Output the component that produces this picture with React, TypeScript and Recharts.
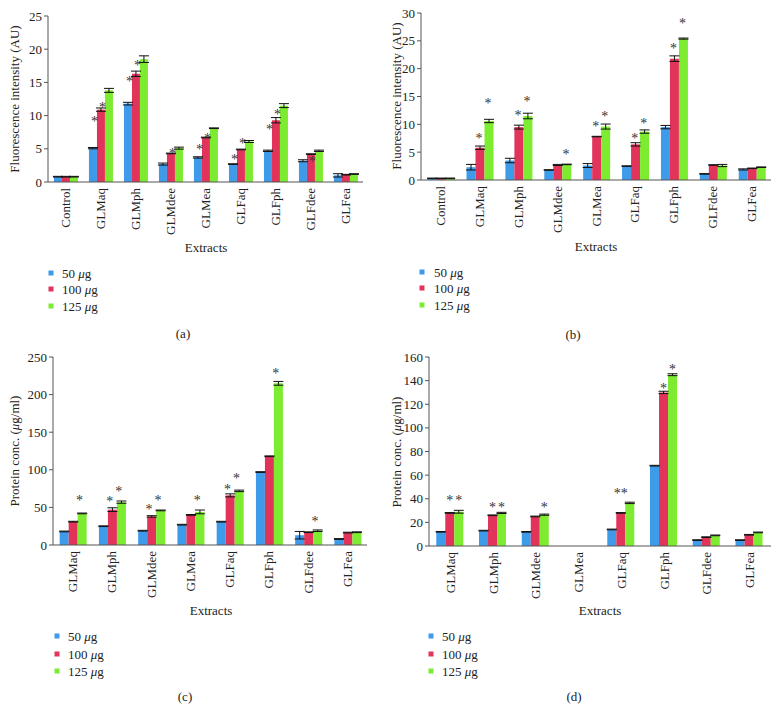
import React from "react";
import { BarChart, Bar, XAxis, YAxis, ErrorBar, LabelList } from "recharts";

const FONT = "'Liberation Serif', 'DejaVu Serif', serif";
const FS = 13;
const C50 = "#3D9BE9";
const C100 = "#E2345B";
const C125 = "#7DEB30";

// ---------- panel (a) ----------
const catsAB = ["Control", "GLMaq", "GLMph", "GLMdee", "GLMea", "GLFaq", "GLFph", "GLFdee", "GLFea"];
const a50 = [0.8, 5.1, 11.8, 2.7, 3.7, 2.7, 4.7, 3.2, 1.0];
const a100 = [0.8, 10.9, 16.3, 4.3, 6.7, 4.9, 9.3, 4.2, 1.1];
const a125 = [0.8, 13.8, 18.5, 5.1, 8.1, 6.1, 11.5, 4.7, 1.2];
const aErr50 = [0.05, 0.1, 0.2, 0.15, 0.1, 0.05, 0.1, 0.15, 0.25];
const aErr100 = [0.05, 0.25, 0.4, 0.05, 0.05, 0.05, 0.4, 0.05, 0.05];
const aErr125 = [0.05, 0.3, 0.5, 0.15, 0.05, 0.15, 0.3, 0.1, 0.05];
const aStar100 = [null, 9.5, 15.5, null, 5.3, 3.8, 8.3, null, null];
const aStar125 = [null, 11.6, 17.9, 4.6, 7.0, 6.1, 10.5, 3.5, null];
const aTicks = [0, 5, 10, 15, 20, 25];

// ---------- panel (b) ----------
const b50 = [0.3, 2.3, 3.5, 1.8, 2.6, 2.5, 9.5, 1.1, 1.9];
const b100 = [0.3, 5.8, 9.5, 2.7, 7.8, 6.4, 21.8, 2.7, 2.1];
const b125 = [0.3, 10.6, 11.5, 2.8, 9.6, 8.7, 25.4, 2.6, 2.3];
const bErr50 = [0.05, 0.5, 0.4, 0.05, 0.35, 0.05, 0.3, 0.05, 0.1];
const bErr100 = [0.05, 0.3, 0.35, 0.1, 0.05, 0.3, 0.5, 0.05, 0.05];
const bErr125 = [0.05, 0.3, 0.5, 0.05, 0.45, 0.3, 0.1, 0.2, 0.05];
const bStar100 = [null, 7.9, 12.0, null, 10.0, 7.9, 24.0, null, null];
const bStar125 = [null, 14.2, 14.6, 5.0, 11.8, 10.6, 28.6, null, null];
const bTicks = [0, 5, 10, 15, 20, 25, 30];

// ---------- panel (c) ----------
const catsCD = ["GLMaq", "GLMph", "GLMdee", "GLMea", "GLFaq", "GLFph", "GLFdee", "GLFea"];
const c50 = [18, 25, 19, 27, 31, 97, 13, 8];
const c100 = [31, 47, 38, 40, 66, 118, 17, 16.5];
const c125 = [42, 57, 46, 44, 72, 215, 19, 17];
const cErr50 = [0.5, 0.5, 0.5, 0.5, 0.5, 0.5, 5, 0.5];
const cErr100 = [0.5, 2.5, 1, 0.5, 2, 0.5, 0.5, 0.5];
const cErr125 = [0.5, 1.5, 0.5, 2.5, 1, 2.5, 1, 0.5];
const cStar100 = [null, 60.6, 50.9, null, 77.4, null, null, null];
const cStar125 = [62, 73.9, 62, 62, 91.6, 232, 34.5, null];
const cTicks = [0, 50, 100, 150, 200, 250];

// ---------- panel (d) ----------
const d50 = [12, 13, 12, 0, 14, 68, 5, 5];
const d100 = [28, 26, 25, 0, 28, 130, 7.5, 9.5];
const d125 = [29, 28, 26.5, 0, 36.5, 145, 9, 11.5];
const dErr50 = [0.3, 0.3, 0.3, 0, 0.3, 0.3, 0.3, 0.3];
const dErr100 = [0.3, 0.3, 0.3, 0, 0.3, 1, 0.3, 0.3];
const dErr125 = [1.2, 0.5, 0.5, 0, 0.6, 0.8, 0.3, 0.3];
const dStar100 = [40.6, 34.6, null, null, 46.5, 135.8, null, null];
const dStar125 = [40.6, 34.6, 34.6, null, null, 151.3, null, null];
const dDoubleStar100 = ["GLFaq"];
const dTicks = [0, 20, 40, 60, 80, 100, 120, 140, 160];

const legendLabels = ["50", "100", "125"];

function buildRows(cats, v1, v2, v3, e1, e2, e3, s2, s3, doubles2) {
  const dbl = doubles2 || [];
  return cats.map((name, i) => ({
    name,
    v1: v1[i], v2: v2[i], v3: v3[i],
    e1: e1[i], e2: e2[i], e3: e3[i],
    s2: s2[i] == null ? null : `${s2[i]}|${dbl.includes(name) ? "**" : "*"}`,
    s3: s3[i] == null ? null : `${s3[i]}|*`,
  }));
}

const XTick = (props) => {
  const { x, y, payload } = props;
  return (
    <text
      transform={`translate(${x + 4.5},${y + 6}) rotate(-90)`}
      textAnchor="end"
      fontSize={FS}
      fontFamily={FONT}
      fill="#222"
    >
      {payload.value}
    </text>
  );
};

function makeStar(plotH, yMax, dx) {
  return (props) => {
    const vb = props.viewBox || {};
    const x = vb.x ?? props.x;
    const y = vb.y ?? props.y;
    const width = vb.width ?? props.width;
    const height = vb.height ?? props.height;
    const raw = props.value;
    if (raw == null || x == null) return null;
    const [hs, txt] = String(raw).split("|");
    const v = parseFloat(hs);
    if (!isFinite(v)) return null;
    const base = y + height;
    const sy = base - (v * plotH) / yMax;
    const cx = x + width / 2 + dx * width;
    return (
      <text x={cx} y={sy + 7} textAnchor="middle" fontSize={14} fontFamily={FONT}
        fill="#333" style={{ fill: "#333" }}>
        {txt || "*"}
      </text>
    );
  };
}

function Panel({ rows, left, top, width, height, margin, yWidth, xHeight, yMax, yTicks, starDx }) {
  const plotH = height - margin.top - margin.bottom - xHeight;
  return (
    <div style={{ position: "absolute", left, top, width, height }}>
      <BarChart width={width} height={height} data={rows} margin={margin} barCategoryGap="17%" barGap={0}>
        <XAxis
          dataKey="name"
          height={xHeight}
          interval={0}
          tickLine={false}
          tickSize={0}
          tickMargin={0}
          axisLine={{ stroke: "#555" }}
          tick={<XTick />}
        />
        <YAxis
          width={yWidth}
          domain={[0, yMax]}
          ticks={yTicks}
          interval={0}
          tickSize={4}
          tickLine={{ stroke: "#555" }}
          axisLine={{ stroke: "#555" }}
          tick={{ fontSize: FS, fontFamily: FONT, fill: "#222" }}
        />
        <Bar dataKey="v1" fill={C50} isAnimationActive={false}>
          <ErrorBar dataKey="e1" width={5} stroke="#111" strokeWidth={1} />
        </Bar>
        <Bar dataKey="v2" fill={C100} isAnimationActive={false}>
          <ErrorBar dataKey="e2" width={5} stroke="#111" strokeWidth={1} />
          <LabelList dataKey="s2" content={makeStar(plotH, yMax, starDx)} />
        </Bar>
        <Bar dataKey="v3" fill={C125} isAnimationActive={false}>
          <ErrorBar dataKey="e3" width={5} stroke="#111" strokeWidth={1} />
          <LabelList dataKey="s3" content={makeStar(plotH, yMax, starDx)} />
        </Bar>
      </BarChart>
    </div>
  );
}

function Legend({ sx, tx, ys }) {
  const colors = [C50, C100, C125];
  return (
    <g>
      {legendLabels.map((l, i) => (
        <g key={l}>
          <rect x={sx - 2.5} y={ys[i] - 2.5} width={5} height={5} fill={colors[i]} />
          <text x={tx} y={ys[i]} dominantBaseline="central" fontSize={FS} fontFamily={FONT} fill="#222">
            {l} <tspan fontStyle="italic">μ</tspan>g
          </text>
        </g>
      ))}
    </g>
  );
}

function T({ x, y, children, rotate }) {
  return (
    <text
      x={x}
      y={y}
      textAnchor="middle"
      dominantBaseline="central"
      fontSize={FS}
      fontFamily={FONT}
      fill="#222"
      transform={rotate ? `rotate(-90 ${x} ${y})` : undefined}
    >
      {children}
    </text>
  );
}

export default function App() {
  const rowsA = buildRows(catsAB, a50, a100, a125, aErr50, aErr100, aErr125, aStar100, aStar125, null);
  const rowsB = buildRows(catsAB, b50, b100, b125, bErr50, bErr100, bErr125, bStar100, bStar125, null);
  const rowsC = buildRows(catsCD, c50, c100, c125, cErr50, cErr100, cErr125, cStar100, cStar125, null);
  const rowsD = buildRows(catsCD, d50, d100, d125, dErr50, dErr100, dErr125, dStar100, dStar125, dDoubleStar100);

  return (
    <div style={{ position: "absolute", left: 0, top: 0, width: 780, height: 722, background: "#fff" }}>
      <Panel rows={rowsA} left={0} top={0} width={370} height={240}
        margin={{ top: 16, right: 7, left: 0, bottom: 0 }} yWidth={48} xHeight={58}
        yMax={25} yTicks={aTicks} starDx={-0.8} />
      <Panel rows={rowsB} left={390} top={0} width={390} height={240}
        margin={{ top: 13, right: 9, left: 0, bottom: 0 }} yWidth={31} xHeight={60}
        yMax={30} yTicks={bTicks} starDx={-0.1} />
      <Panel rows={rowsC} left={0} top={340} width={380} height={265}
        margin={{ top: 17, right: 13, left: 0, bottom: 0 }} yWidth={53} xHeight={60}
        yMax={250} yTicks={cTicks} starDx={-0.3} />
      <Panel rows={rowsD} left={390} top={340} width={390} height={265}
        margin={{ top: 17, right: 9, left: 0, bottom: 0 }} yWidth={39} xHeight={59}
        yMax={160} yTicks={dTicks} starDx={0} />

      <svg width={780} height={722} style={{ position: "absolute", left: 0, top: 0, pointerEvents: "none" }}>
        <T x={14} y={99} rotate>Fluorescence intensity (AU)</T>
        <T x={396} y={96} rotate>Fluorescence intensity (AU)</T>
        <T x={14} y={451} rotate>
          Protein conc. (<tspan fontStyle="italic">μ</tspan>g/ml)
        </T>
        <T x={396} y={452} rotate>
          Protein conc. (<tspan fontStyle="italic">μ</tspan>g/ml)
        </T>

        <T x={206} y={247}>Extracts</T>
        <T x={596} y={246}>Extracts</T>
        <T x={211} y={610}>Extracts</T>
        <T x={600} y={610}>Extracts</T>

        <Legend sx={51} tx={62} ys={[273, 289, 306]} />
        <Legend sx={422} tx={434} ys={[272, 288, 305]} />
        <Legend sx={57} tx={68} ys={[636, 654, 671]} />
        <Legend sx={431} tx={442} ys={[636, 654, 671]} />

        <T x={183} y={333}>(a)</T>
        <T x={573} y={334}>(b)</T>
        <T x={185} y={696}>(c)</T>
        <T x={574} y={696}>(d)</T>
      </svg>
    </div>
  );
}
